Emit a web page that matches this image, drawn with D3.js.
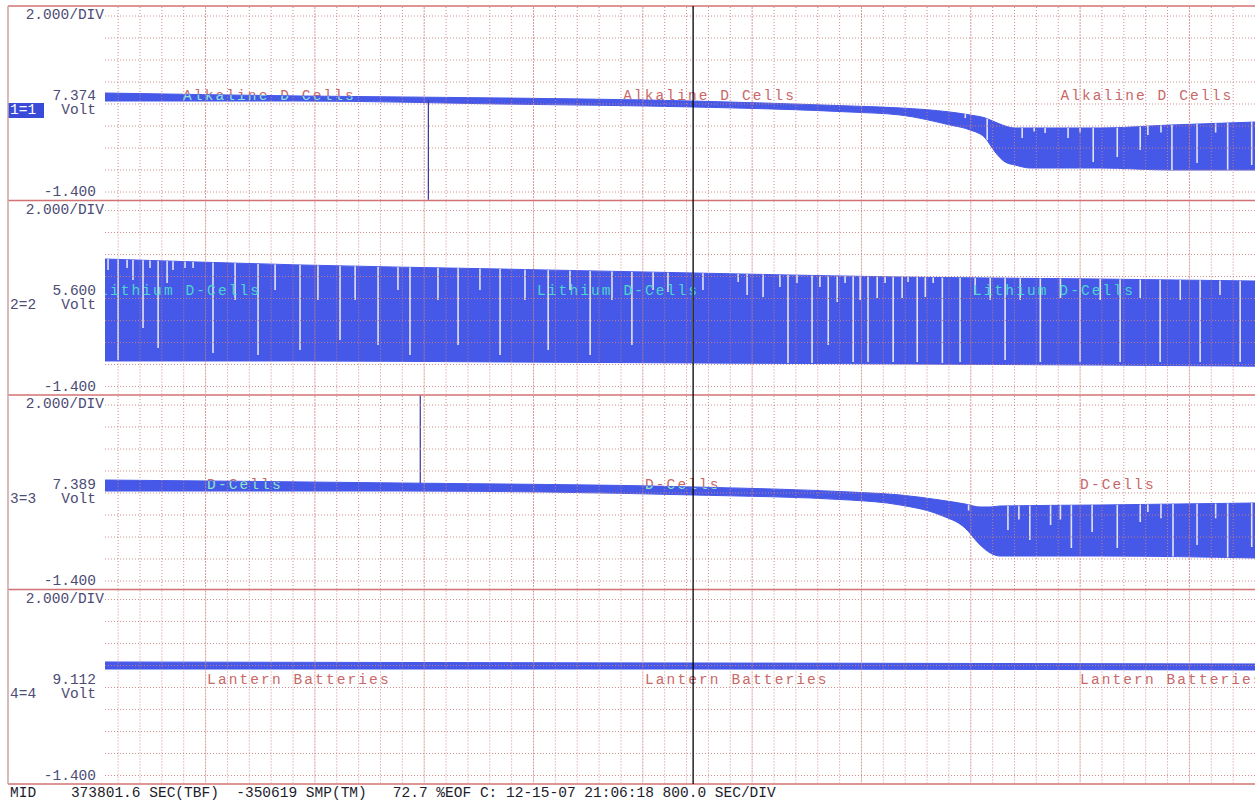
<!DOCTYPE html>
<html>
<head>
<meta charset="utf-8">
<script src="https://cdn.jsdelivr.net/npm/d3@7"></script>
<style>
body { margin: 0; background: #fff; }
svg { display: block; }
text { font-family: "Liberation Mono", "DejaVu Sans Mono", monospace; }
</style>
</head>
<body>
<svg id="chart"></svg>
<script>
// channel info
const channelIds = ['1=1', '2=2', '3=3', '4=4']
const readouts = ['7.374', '5.600', '7.389', '9.112']
const traceNames = ['Alkaline D Cells', 'Lithium D-Cells', 'D-Cells', 'Lantern Batteries']
const nameTimes = [[2.97, 23.1, 43.1], [-0.87, 19.16, 39.1], [4.07, 24.1, 44.0], [4.07, 24.1, 44.0]]
const scaleText = '2.000/DIV'
const bottomText = '-1.400'
const unitText = 'Volt'
const statusText = 'MID    373801.6 SEC(TBF)  -350619 SMP(TM)   72.7 %EOF C: 12-15-07 21:06:18 800.0 SEC/DIV'
const cursorTime = 26.3

// envelope of each trace (time in divisions, volts)
const alkTime = [-0.6, 8.32, 17.47, 26.3, 33.48, 35.77, 38.05, 38.97, 39.66, 40.11, 40.57, 41.03, 41.72, 44.92, 48.12, 52.0]
const alkHigh = [7.6, 7.33, 7.15, 6.87, 6.42, 6.24, 5.87, 5.6, 5.33, 4.96, 4.6, 4.42, 4.42, 4.42, 4.69, 4.96]
const alkLow = [6.87, 6.87, 6.6, 6.33, 5.87, 5.6, 4.69, 4.24, 3.51, 2.24, 1.33, 1.05, 0.78, 0.78, 0.6, 0.6]

const lithTime = [-0.6, 8.32, 17.47, 26.3, 35.77, 44.92, 52.0]
const lithHigh = [10.19, 9.65, 9.28, 8.92, 8.55, 8.37, 8.19]
const lithLow = [0.92, 0.92, 0.83, 0.74, 0.65, 0.55, 0.45]

const dcTime = [-0.6, 12.9, 26.3, 33.48, 35.77, 37.6, 38.74, 39.43, 39.89, 40.34, 44.92, 52.0]
const dcHigh = [7.78, 7.51, 7.15, 6.69, 6.42, 5.96, 5.6, 5.33, 5.33, 5.42, 5.51, 5.69]
const dcLow = [6.78, 6.78, 6.42, 5.96, 5.51, 4.6, 3.42, 1.87, 1.15, 0.87, 0.87, 0.69]

const lanTime = [-0.6, 26.3, 52.0]
const lanHigh = [8.92, 8.83, 8.74]
const lanLow = [8.28, 8.28, 8.19]

// dropouts: time and the lowest volt they reach
const alkGapTime = [38.75, 39.75, 41.35, 41.9, 42.4, 43.45, 44.0, 44.6, 45.7, 46.75, 47.1, 47.7, 48.2, 49.35, 50.2, 50.75, 51.85]
const alkGapLow = [5.33, 3.33, 3.51, 4.1, 3.96, 3.51, 4.0, 1.33, 1.78, 2.42, 3.78, 4.0, 0.6, 1.24, 4.0, 0.6, 1.05]

const lithGapTime = [-0.46, 0.0, 0.41, 0.68, 1.14, 1.46, 1.83, 2.24, 2.51, 3.06, 3.43, 4.34, 5.35, 6.4, 7.18, 8.32, 9.14, 10.15, 10.84, 11.89, 12.8, 13.35, 14.63, 15.55, 16.55, 17.47, 18.61, 19.67, 20.67, 21.59, 22.59, 23.5,
  24.47, 25.15, 26.3, 26.75, 28.36, 28.77, 29.5, 30.27, 30.64, 31.05, 31.74, 32.1, 32.48, 32.89, 33.25, 33.62, 33.94, 34.3, 34.72, 35.08, 35.45, 35.86, 36.13, 36.55, 36.92, 37.28, 37.7,
  38.51, 39.2, 39.89, 40.57, 41.26, 42.18, 43.1, 44.0, 44.92, 45.83, 46.75, 47.66, 48.58, 49.49, 50.4, 51.32]
const lithGapLow = [9.19, 1.01, 9.37, 8.28, 3.92, 9.37, 2.1, 8.01, 9.19, 9.37, 9.37, 1.65, 6.46, 1.46, 7.37, 1.92, 6.46, 2.83, 6.46, 2.37, 7.37, 1.46, 6.46, 2.37, 7.37, 1.46, 6.46, 1.92, 7.37, 1.46, 6.46, 2.37,
  7.37, 7.19, 0.74, 7.37, 8.1, 6.92, 6.74, 7.65, 0.74, 8.0, 0.74, 7.65, 2.37, 6.28, 8.0, 0.83, 6.46, 0.83, 6.65, 8.0, 0.83, 6.65, 8.1, 0.83, 6.74, 8.0, 0.74,
  0.83, 6.92, 6.46, 1.01, 6.46, 0.83, 6.65, 0.83, 6.46, 0.83, 6.65, 0.83, 6.46, 0.83, 6.92, 0.83]

const dcGapTime = [38.9, 40.7, 41.2, 41.7, 42.65, 43.1, 43.6, 44.55, 45.7, 46.75, 47.1, 47.7, 48.25, 49.35, 50.2, 50.75, 51.85]
const dcGapLow = [5.0, 3.24, 4.2, 2.33, 3.69, 4.2, 1.6, 3.05, 1.6, 3.96, 4.87, 4.3, 0.69, 1.87, 4.3, 0.69, 1.69]

const lanGapTime = []
const lanGapLow = []

// spikes: time, from volt, to volt
const spikeTime = [14.19, null, 13.82, null]
const spikeFrom = [6.95, null, 7.5, null]
const spikeTo = [-2.1, null, 15.5, null]

const traceTimes = [alkTime, lithTime, dcTime, lanTime]
const traceHighs = [alkHigh, lithHigh, dcHigh, lanHigh]
const traceLows = [alkLow, lithLow, dcLow, lanLow]
const gapTimes = [alkGapTime, lithGapTime, dcGapTime, lanGapTime]
const gapLows = [alkGapLow, lithGapLow, dcGapLow, lanGapLow]

const width = 1255
const height = 801
const top0 = 6
const panelH = 194.5
const plotLeft = 105
const plotRight = 1255
const traceColor = '#4658e8'
const gridColor = '#cc8282'
const lineColor = '#d27272'
const textColor = '#4c4c74'
const nameColors = ['#c86868', '#4cd6cc', '#c86868', '#c86868']
const nameOverColors = ['#8fe0d6', '#4cd6cc', '#8fe6c0', '#c86868']

const svg = d3.select('#chart').attr('width', width).attr('height', height)

const xScale = d3.scaleLinear().domain([-0.6, 52]).range([plotLeft, plotRight])
const xTicks = d3.range(0, 52)
const yTicks = d3.range(-1.4, 14.7, 2)

const defs = svg.append('defs')
defs.append('clipPath').attr('id', 'plot-clip')
    .append('rect')
    .attr('x', plotLeft).attr('y', 0)
    .attr('width', plotRight - plotLeft).attr('height', height)

const drawPanel = (i) => {
    const top = top0 + i * panelH
    const yScale = d3.scaleLinear().domain([-1.4, 14.6]).range([top + 186, top + 10])
    const pts = traceTimes[i].map((t, j) => ({t, hi: traceHighs[i][j], lo: traceLows[i][j]}))
    const area = d3.area()
        .x(d => xScale(d.t))
        .y0(d => yScale(d.lo))
        .y1(d => yScale(d.hi))
        .curve(d3.curveMonotoneX)

    const g = svg.append('g').attr('clip-path', 'url(#plot-clip)')

    // trace names behind the trace
    g.append('g').selectAll('text')
        .data(nameTimes[i])
        .enter()
        .append('text')
        .attr('x', d => xScale(d))
        .attr('y', top + 94)
        .attr('font-size', 14.5)
        .attr('letter-spacing', 2.1)
        .attr('fill', nameColors[i])
        .text(traceNames[i])

    // band
    const clipId = 'band-' + i
    defs.append('clipPath').attr('id', clipId)
        .append('path').attr('d', area(pts))
    g.append('path')
        .attr('d', area(pts))
        .attr('fill', traceColor)
        .attr('stroke', traceColor)
        .attr('stroke-width', 1)

    // dropouts inside the band
    const gapData = gapTimes[i].map((t, j) => ({t, lo: gapLows[i][j]}))
    g.append('g').attr('clip-path', 'url(#' + clipId + ')')
        .selectAll('line')
        .data(gapData)
        .enter()
        .append('line')
        .attr('x1', d => xScale(d.t))
        .attr('x2', d => xScale(d.t))
        .attr('y1', yScale(14.6))
        .attr('y2', d => yScale(d.lo))
        .attr('stroke', '#e2e2f2')
        .attr('stroke-width', 1.6)

    // names redrawn where they sit on the band
    g.append('g').attr('clip-path', 'url(#' + clipId + ')')
        .selectAll('text')
        .data(nameTimes[i])
        .enter()
        .append('text')
        .attr('x', d => xScale(d))
        .attr('y', top + 94)
        .attr('font-size', 14.5)
        .attr('letter-spacing', 2.1)
        .attr('fill', nameOverColors[i])
        .text(traceNames[i])

    // spike
    if (spikeTime[i] !== null) {
        g.append('line')
            .attr('x1', xScale(spikeTime[i])).attr('x2', xScale(spikeTime[i]))
            .attr('y1', yScale(spikeFrom[i])).attr('y2', yScale(spikeTo[i]))
            .attr('stroke', '#35359a')
            .attr('stroke-width', 1.2)
    }

    // dotted grid on top
    const grid = svg.append('g')
    grid.selectAll('.hgrid')
        .data(yTicks)
        .enter()
        .append('line')
        .attr('x1', plotLeft).attr('x2', plotRight)
        .attr('y1', d => yScale(d)).attr('y2', d => yScale(d))
        .attr('stroke', gridColor)
        .attr('stroke-width', 1)
        .attr('stroke-dasharray', '1,2')
        .attr('opacity', 0.9)
    grid.selectAll('.vgrid')
        .data(xTicks)
        .enter()
        .append('line')
        .attr('x1', d => xScale(d)).attr('x2', d => xScale(d))
        .attr('y1', top + 1).attr('y2', top + panelH - 1)
        .attr('stroke', gridColor)
        .attr('stroke-width', 1)
        .attr('stroke-dasharray', d => d % 5 === 4 ? '2,1' : '1,2')
        .attr('opacity', d => d % 5 === 4 ? 0.8 : 0.9)

    // left side labels
    const lab = svg.append('g').attr('fill', textColor).attr('font-size', 14.5)
    lab.append('text').attr('x', 104).attr('y', top + 13).attr('text-anchor', 'end').text(scaleText)
    lab.append('text').attr('x', 96).attr('y', top + 94).attr('text-anchor', 'end').text(readouts[i])
    lab.append('text').attr('x', 96).attr('y', top + 108).attr('text-anchor', 'end').text(unitText)
    lab.append('text').attr('x', 96).attr('y', top + 190).attr('text-anchor', 'end').text(bottomText)
    if (i === 0) {
        svg.append('rect')
            .attr('x', 8).attr('y', top + 97)
            .attr('width', 36).attr('height', 15)
            .attr('fill', '#3a4ad8')
    }
    svg.append('text')
        .attr('x', 10).attr('y', top + 108)
        .attr('font-size', 14.5)
        .attr('fill', i === 0 ? '#ffffff' : textColor)
        .text(channelIds[i])
}

d3.range(4).forEach(drawPanel)

// panel frame lines
svg.selectAll('.sep')
    .data(d3.range(5))
    .enter()
    .append('line')
    .attr('x1', 8).attr('x2', width)
    .attr('y1', d => top0 + d * panelH).attr('y2', d => top0 + d * panelH)
    .attr('stroke', lineColor)
    .attr('stroke-width', 1.5)
svg.append('line')
    .attr('x1', 8).attr('x2', 8)
    .attr('y1', top0).attr('y2', top0 + 4 * panelH)
    .attr('stroke', '#c8a4a4')
    .attr('stroke-width', 1.5)

// cursor
svg.append('line')
    .attr('x1', xScale(cursorTime)).attr('x2', xScale(cursorTime))
    .attr('y1', top0).attr('y2', top0 + 4 * panelH)
    .attr('stroke', '#000')
    .attr('stroke-width', 1.3)

// status line
svg.append('text')
    .attr('x', 10).attr('y', 797)
    .attr('font-size', 14.5)
    .attr('fill', '#1c1c2c')
    .style('white-space', 'pre')
    .text(statusText)
</script>
</body>
</html>
